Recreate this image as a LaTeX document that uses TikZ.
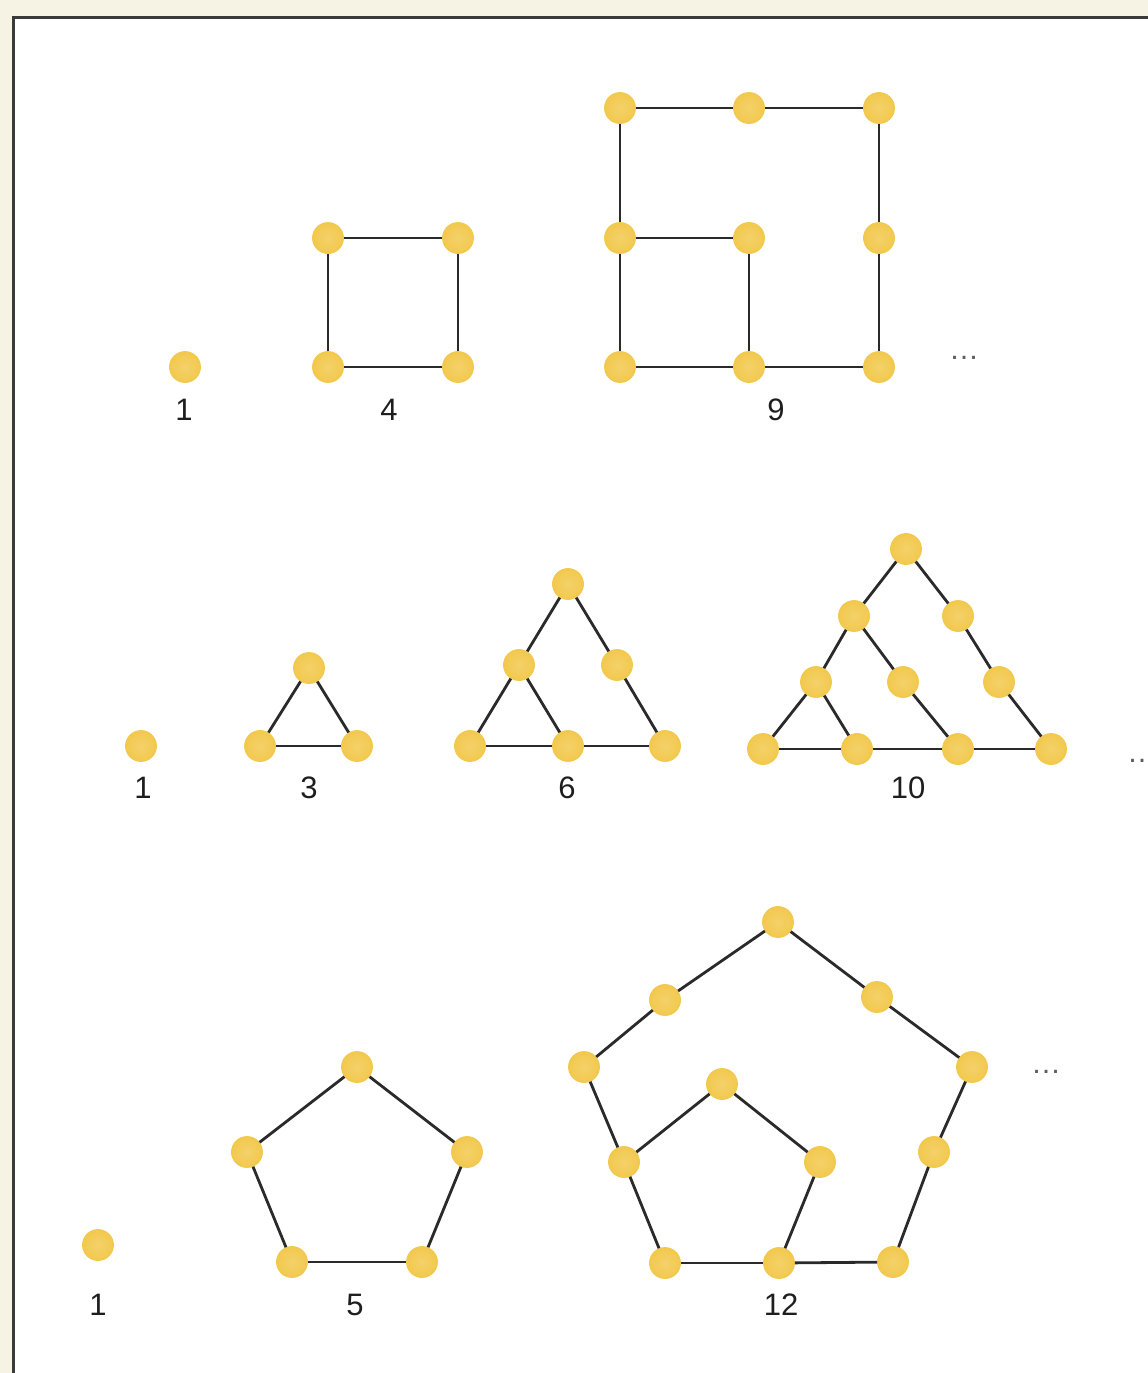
\documentclass[tikz,border=0pt]{standalone}
\usepackage{fontspec}
\setmainfont{Liberation Sans}
\definecolor{bgc}{HTML}{F6F2E4}
\definecolor{framec}{HTML}{3A3A3A}
\definecolor{dotc}{HTML}{F2C94E}
\definecolor{dotin}{HTML}{F4D16A}
\definecolor{edgec}{HTML}{2A2A2A}
\definecolor{labelc}{HTML}{1E1E1E}
\definecolor{ellc}{HTML}{5E5E5E}
\begin{document}
\begin{tikzpicture}[x=1pt,y=-1pt,
  dot/.style={circle, inner sep=0pt, minimum size=31pt, inner color=dotin, outer color=dotc, draw=dotc, line width=0.8pt},
  edge/.style={draw=edgec, line width=2.8pt},
  lbl/.style={font=\fontsize{31}{31}\selectfont, text=labelc, inner sep=0pt},
  ell/.style={font=\fontsize{30}{30}\selectfont, text=ellc, inner sep=0pt}]
\useasboundingbox (0,0) rectangle (1148,1373);
\clip (0,0) rectangle (1148,1373);
\fill[bgc] (0,0) rectangle (1148,1373);
\draw[fill=white, draw=framec, line width=3pt] (13.5,17.5) rectangle (1170,1400);

% ---------- Row 1: squares ----------
\node[dot] (s1) at (185,367) {};
\node[lbl] (l1a) at (184,410) {1};

\node[dot] (q1) at (328,238) {};
\node[dot] (q2) at (458,238) {};
\node[dot] (q3) at (328,367) {};
\node[dot] (q4) at (458,367) {};
\draw[edge] (q1) -- (q2);
\draw[edge] (q2) -- (q4);
\draw[edge] (q4) -- (q3);
\draw[edge] (q3) -- (q1);
\node[lbl] (l4) at (389,410) {4};

\node[dot] (n11) at (620,108) {};
\node[dot] (n12) at (749,108) {};
\node[dot] (n13) at (879,108) {};
\node[dot] (n21) at (620,238) {};
\node[dot] (n22) at (749,238) {};
\node[dot] (n23) at (879,238) {};
\node[dot] (n31) at (620,367) {};
\node[dot] (n32) at (749,367) {};
\node[dot] (n33) at (879,367) {};
\draw[edge] (n11) -- (n12);
\draw[edge] (n12) -- (n13);
\draw[edge] (n11) -- (n21);
\draw[edge] (n21) -- (n31);
\draw[edge] (n13) -- (n23);
\draw[edge] (n23) -- (n33);
\draw[edge] (n21) -- (n22);
\draw[edge] (n22) -- (n32);
\draw[edge] (n31) -- (n32);
\draw[edge] (n32) -- (n33);
\node[lbl] (l9) at (776,410) {9};
\node[ell] (e1) at (964,358) {…};

% ---------- Row 2: triangles ----------
\node[dot] (t1) at (141,746) {};
\node[lbl] (l1b) at (143,788) {1};

\node[dot] (a1) at (309,668) {};
\node[dot] (a2) at (260,746) {};
\node[dot] (a3) at (357,746) {};
\draw[edge] (a1) -- (a2);
\draw[edge] (a2) -- (a3);
\draw[edge] (a3) -- (a1);
\node[lbl] (l3) at (309,788) {3};

\node[dot] (b1) at (568,584) {};
\node[dot] (b2) at (519,665) {};
\node[dot] (b3) at (617,665) {};
\node[dot] (b4) at (470,746) {};
\node[dot] (b5) at (568,746) {};
\node[dot] (b6) at (665,746) {};
\draw[edge] (b1) -- (b2);
\draw[edge] (b2) -- (b4);
\draw[edge] (b1) -- (b3);
\draw[edge] (b3) -- (b6);
\draw[edge] (b4) -- (b5);
\draw[edge] (b5) -- (b6);
\draw[edge] (b2) -- (b5);
\node[lbl] (l6) at (567,788) {6};

\node[dot] (c1) at (906,549) {};
\node[dot] (c2) at (854,616) {};
\node[dot] (c3) at (958,616) {};
\node[dot] (c4) at (816,682) {};
\node[dot] (c5) at (903,682) {};
\node[dot] (c6) at (999,682) {};
\node[dot] (c7) at (763,749) {};
\node[dot] (c8) at (857,749) {};
\node[dot] (c9) at (958,749) {};
\node[dot] (c10) at (1051,749) {};
\draw[edge] (c1) -- (c2);
\draw[edge] (c2) -- (c4);
\draw[edge] (c4) -- (c7);
\draw[edge] (c1) -- (c3);
\draw[edge] (c3) -- (c6);
\draw[edge] (c6) -- (c10);
\draw[edge] (c7) -- (c8);
\draw[edge] (c8) -- (c9);
\draw[edge] (c9) -- (c10);
\draw[edge] (c4) -- (c8);
\draw[edge] (c2) -- (c5);
\draw[edge] (c5) -- (c9);
\node[lbl] (l10) at (908,788) {10};
\node[ell, anchor=west] (e2) at (1127,761) {…};

% ---------- Row 3: pentagons ----------
\node[dot] (p0) at (98,1245) {};
\node[lbl] (l1c) at (98,1305) {1};

\node[dot] (f1) at (357,1067) {};
\node[dot] (f2) at (247,1152) {};
\node[dot] (f3) at (467,1152) {};
\node[dot] (f4) at (292,1262) {};
\node[dot] (f5) at (422,1262) {};
\draw[edge] (f1) -- (f2);
\draw[edge] (f2) -- (f4);
\draw[edge] (f4) -- (f5);
\draw[edge] (f5) -- (f3);
\draw[edge] (f3) -- (f1);
\node[lbl] (l5) at (355,1305) {5};

\node[dot] (g1) at (778,922) {};
\node[dot] (g2) at (665,1000) {};
\node[dot] (g3) at (877,997) {};
\node[dot] (g4) at (584,1067) {};
\node[dot] (g5) at (972,1067) {};
\node[dot] (g6) at (722,1084) {};
\node[dot] (g7) at (624,1162) {};
\node[dot] (g8) at (820,1162) {};
\node[dot] (g9) at (934,1152) {};
\node[dot] (g10) at (665,1263) {};
\node[dot] (g11) at (779,1263) {};
\node[dot] (g12) at (893,1262) {};
\draw[edge] (g1) -- (g2);
\draw[edge] (g2) -- (g4);
\draw[edge] (g4) -- (g7);
\draw[edge] (g7) -- (g10);
\draw[edge] (g10) -- (g11);
\draw[edge] (g11) -- (g12);
\draw[edge] (g12) -- (g9);
\draw[edge] (g9) -- (g5);
\draw[edge] (g5) -- (g3);
\draw[edge] (g3) -- (g1);
\draw[edge] (g7) -- (g6);
\draw[edge] (g6) -- (g8);
\draw[edge] (g8) -- (g11);
\node[lbl] (l12) at (781,1305) {12};
\node[ell] (e3) at (1046,1072) {…};
\end{tikzpicture}
\end{document}
